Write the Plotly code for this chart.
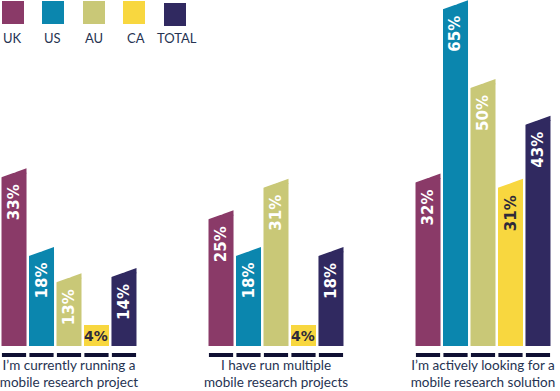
import plotly.graph_objects as go

# ---------------- data ----------------
categories = [
    "I’m currently running a<br>mobile research project",
    "I have run multiple<br>mobile research projects",
    "I’m actively looking for a<br>mobile research solution",
]
series_names = ["UK", "US", "AU", "CA", "TOTAL"]
uk_values = [33, 25, 32]
us_values = [18, 18, 65]
au_values = [13, 31, 50]
ca_values = [4, 4, 31]
total_values = [14, 18, 43]

# ---------------- style ----------------
series_values = [uk_values, us_values, au_values, ca_values, total_values]
colors = ["#8A3A68", "#0B86AE", "#C9C877", "#F8D73F", "#302960"]
label_colors = ["white", "white", "white", "#2E2A3A", "white"]
DARK = "#0F1033"
TEXT = "#263352"

BARGAP = 0.336
BARGROUPGAP = 0.09
SLANT = 0.85         # half of the slanted-top rise, in axis units
W, H = 560, 391
M_B = 45
PLOT_H = H - M_B

n = len(series_names)
group_w = 1 - BARGAP
slot = group_w / n
bw = slot * (1 - BARGROUPGAP)
slope = 2 * SLANT / bw
gx = list(range(len(categories)))

fig = go.Figure()
for i, name in enumerate(series_names):
    fig.add_trace(go.Bar(
        x=gx, y=series_values[i], name=name,
        marker=dict(color=colors[i], line=dict(width=0)),
        showlegend=False, hoverinfo="x+y+name",
    ))

# slanted tops: coloured wedge on the right, white wedge on the left
e = 0.004
d = 0.01
white_x, white_y = [], []
annotations = []
shapes = []
for i, name in enumerate(series_names):
    for g, v in zip(gx, series_values[i]):
        xc = g - group_w / 2 + (i + 0.5) * slot
        xl, xr = xc - bw / 2, xc + bw / 2
        # underline dash below each bar
        shapes.append(dict(type="rect", xref="x", yref="paper", ysizemode="pixel", yanchor=0,
                           x0=xl + 0.002, x1=xr - 0.002, y0=-7, y1=-11,
                           fillcolor=DARK, line=dict(width=0), layer="above"))
        if v >= 10:
            s = SLANT
            white_x += [xl - e, xc + d, xl - e, xl - e, None]
            white_y += [v - s - slope * e, v + d * slope, v + d * slope, v - s - slope * e, None]
            cx = [xc - d, xr, xr, xc - d, None]
            cy = [v - d * slope, v + s, v - d * slope, v - d * slope, None]
            fig.add_trace(go.Scatter(x=cx, y=cy, mode="lines", fill="toself",
                                     fillcolor=colors[i], line=dict(width=0),
                                     hoverinfo="skip", showlegend=False))
            annotations.append(dict(
                x=xc, y=v - s, xref="x", yref="y", text=f"{v}%", showarrow=False,
                textangle=-90, yanchor="top", xanchor="center", yshift=-5,
                font=dict(family="DejaVu Sans", size=15, color=label_colors[i], weight="bold"),
            ))
        else:
            annotations.append(dict(
                x=xc, y=v / 2, xref="x", yref="y", text=f"{v}%", showarrow=False,
                yanchor="middle", xanchor="center",
                font=dict(family="DejaVu Sans", size=14, color=label_colors[i], weight="bold"),
            ))

fig.add_trace(go.Scatter(x=white_x, y=white_y, mode="lines", fill="toself",
                         fillcolor="white", line=dict(width=0),
                         hoverinfo="skip", showlegend=False))

# custom legend: squares with labels underneath
legend_x = [2, 42, 83, 123, 164]
label_x = [1, 42, 83, 125, 155]
for i, name in enumerate(series_names):
    top = -1 if i < 4 else -3
    shapes.append(dict(type="rect", xref="paper", yref="paper",
                       xsizemode="pixel", ysizemode="pixel", xanchor=0, yanchor=1,
                       x0=legend_x[i], x1=legend_x[i] + 22, y0=top, y1=top - 23,
                       fillcolor=colors[i], line=dict(width=0), layer="above"))
    annotations.append(dict(
        x=label_x[i] / W, y=1 - 38 / PLOT_H, xref="paper", yref="paper",
        text=name, showarrow=False, xanchor="left", yanchor="middle",
        font=dict(family="Lato", size=13, color=TEXT),
    ))

unit_px = 207.0
x0_px = 69.0
fig.update_layout(
    width=W, height=H,
    margin=dict(l=0, r=0, t=0, b=M_B, pad=0, autoexpand=False),
    paper_bgcolor="white", plot_bgcolor="white",
    barmode="group", bargap=BARGAP, bargroupgap=BARGROUPGAP,
    showlegend=False,
    annotations=annotations, shapes=shapes,
    xaxis=dict(range=[-x0_px / unit_px, (W - x0_px) / unit_px], automargin=False,
               tickvals=gx, ticktext=categories, showgrid=False, zeroline=False,
               showline=False, ticks="", ticklabelstandoff=9,
               ticklabeloverflow="allow",
               tickfont=dict(family="Lato", size=13.5, color=TEXT), fixedrange=True),
    yaxis=dict(range=[0, PLOT_H / 5.25], showgrid=False, zeroline=False, automargin=False,
               showline=False, showticklabels=False, ticks="", fixedrange=True),
)

fig.write_html("out.html", config={"displayModeBar": False},
               post_script="document.body.style.margin='0';")
